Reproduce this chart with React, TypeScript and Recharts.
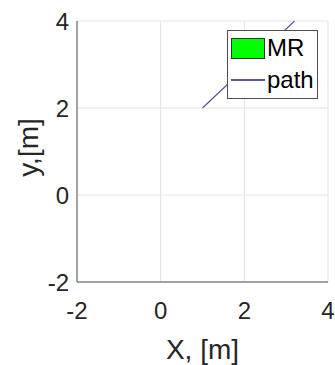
import { ComposedChart, Line, XAxis, YAxis, CartesianGrid, Legend } from "recharts";

const xTicks = [-2, 0, 2, 4];
const yTicks = [-2, 0, 2, 4];

// path segment (only part inside the axes is visible)
const pathX = [1.0, 3.2];
const pathY = [2.0, 4.0];

const legendItems = [
  { name: "MR", kind: "patch", color: "#00ff00" },
  { name: "path", kind: "line", color: "#5555a0" },
];

const pathData = pathX.map((x, i) => ({ x, y: pathY[i] }));

const font = "'Liberation Sans', Arial, Helvetica, sans-serif";
const txt = "#262626";

const LegendBox = () => (
  <div
    style={{
      background: "#fff",
      border: "1px solid #4d4d4d",
      padding: "1px 3px 2px 3px",
      fontFamily: font,
      fontSize: 24,
      color: "#000",
      lineHeight: "32px",
    }}
  >
    {legendItems.map((it) => (
      <div key={it.name} style={{ display: "flex", alignItems: "center", height: 32 }}>
        {it.kind === "patch" ? (
          <div style={{ width: 34, height: 21, background: it.color, border: "1px solid #333", boxSizing: "border-box" }} />
        ) : (
          <div style={{ width: 34, height: 21, display: "flex", alignItems: "center" }}>
            <div style={{ width: 34, height: 1.5, background: it.color }} />
          </div>
        )}
        <span style={{ marginLeft: 2 }}>{it.name}</span>
      </div>
    ))}
  </div>
);

export default function App() {
  return (
    <div style={{ width: 335, height: 365, background: "#fff" }}>
      <style>{`body{margin:0}`}</style>
      <ComposedChart width={335} height={365} data={pathData} margin={{ top: 21, right: 7, left: 0, bottom: 0 }}>
        <CartesianGrid stroke="#e3e3e3" strokeWidth={1} />
        <XAxis
          dataKey="x"
          type="number"
          domain={[-2, 4]}
          ticks={xTicks}
          allowDataOverflow
          height={83}
          tickLine={false}
          tickSize={0}
          tickMargin={20}
          axisLine={{ stroke: "#555" }}
          tick={{ fontSize: 24, fill: txt, fontFamily: font }}
          label={{ value: "X, [m]", position: "insideBottom", offset: 6, fontSize: 28, fill: txt, fontFamily: font }}
        />
        <XAxis xAxisId="top" orientation="top" type="number" domain={[-2, 4]} height={0} tick={false} tickLine={false} axisLine={{ stroke: "#555" }} />
        <YAxis
          type="number"
          domain={[-2, 4]}
          ticks={yTicks}
          allowDataOverflow
          width={77}
          tickLine={false}
          tickSize={0}
          tickMargin={8}
          axisLine={{ stroke: "#555" }}
          tick={{ fontSize: 24, fill: txt, fontFamily: font }}
          label={{ value: "y,[m]", angle: -90, position: "center", dx: -10, dy: -4, fontSize: 28, fill: txt, fontFamily: font }}
        />
        <YAxis yAxisId="right" orientation="right" type="number" domain={[-2, 4]} width={0} tick={false} tickLine={false} axisLine={{ stroke: "#555" }} />
        <Legend
          layout="vertical"
          align="center"
          verticalAlign="middle"
          content={<LegendBox />}
          wrapperStyle={{ position: "absolute", top: 30, left: 227, width: "auto", height: "auto" }}
        />
        <Line dataKey="y" name="path" stroke="#5555a0" strokeWidth={1.2} dot={false} isAnimationActive={false} legendType="line" />
      </ComposedChart>
    </div>
  );
}
